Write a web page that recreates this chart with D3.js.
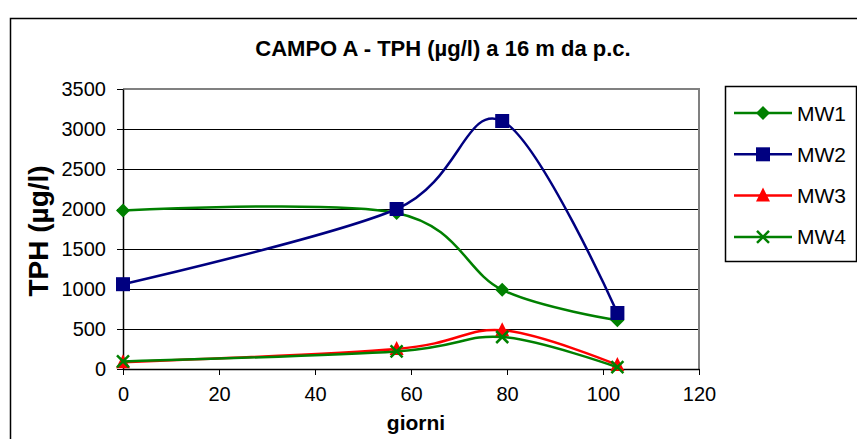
<!DOCTYPE html>
<html>
<head>
<meta charset="utf-8">
<script src="https://cdn.jsdelivr.net/npm/d3@7"></script>
<style>
body { margin: 0; background: #fff; }
svg { font-family: "Liberation Sans", Arial, sans-serif; }
</style>
</head>
<body>
<div id="chart"></div>
<script>
// giorni (days) and TPH values per well
const giorni = [0, 57, 79, 103];
const mw1 = [1980, 1950, 990, 610];
const mw2 = [1060, 2000, 3100, 700];
const mw3 = [85, 250, 485, 50];
const mw4 = [95, 220, 400, 22];
const seriesNames = ["MW1", "MW2", "MW3", "MW4"];
const xTicks = [0, 20, 40, 60, 80, 100, 120];
const yTicks = [0, 500, 1000, 1500, 2000, 2500, 3000, 3500];

const width = 857, height = 439;
const margin = { top: 89, bottom: 70, left: 123, right: 158 };

const svg = d3.select('#chart')
  .append('svg')
  .attr('width', width)
  .attr('height', height);

// outer chart border
svg.append('rect')
  .attr('x', 10.5).attr('y', 18.5)
  .attr('width', 900).attr('height', 500)
  .attr('fill', 'white')
  .attr('stroke', '#000')
  .attr('stroke-width', 1.5);

const xScale = d3.scaleLinear()
  .domain([0, 120])
  .range([margin.left, width - margin.right]);

const yScale = d3.scaleLinear()
  .domain([0, 3500])
  .range([height - margin.bottom, margin.top]);

// gridlines
svg.append('g')
  .selectAll('line')
  .data(yTicks.slice(1, -1))
  .enter()
  .append('line')
  .attr('x1', xScale(0)).attr('x2', xScale(120))
  .attr('y1', d => Math.round(yScale(d)) + 0.5)
  .attr('y2', d => Math.round(yScale(d)) + 0.5)
  .attr('stroke', '#000')
  .attr('stroke-width', 1);

// plot area border (gray top/right)
svg.append('path')
  .attr('d', `M${xScale(0)},${yScale(3500)}H${xScale(120)}V${yScale(0)}`)
  .attr('fill', 'none')
  .attr('stroke', '#808080')
  .attr('stroke-width', 2);

// axes
const xAxis = d3.axisBottom(xScale).tickValues(xTicks).tickFormat(d3.format('d'))
  .tickSize(6).tickPadding(12).tickSizeOuter(0);
const gx = svg.append('g')
  .attr('transform', `translate(0,${yScale(0)})`)
  .call(xAxis);
gx.select('.domain').attr('stroke', '#000').attr('stroke-width', 1.5);
gx.selectAll('.tick line').attr('stroke', '#000');
gx.selectAll('text').style('font-size', '20px').attr('fill', '#000');

const yAxis = d3.axisLeft(yScale).tickValues(yTicks).tickFormat(d3.format('d'))
  .tickSize(6).tickPadding(11).tickSizeOuter(0);
const gy = svg.append('g')
  .attr('transform', `translate(${xScale(0)},0)`)
  .call(yAxis);
gy.select('.domain').attr('stroke', '#000').attr('stroke-width', 1.5);
gy.selectAll('.tick line').attr('stroke', '#000');
gy.selectAll('text').style('font-size', '20px').attr('fill', '#000');

// titles
svg.append('text')
  .text('CAMPO A - TPH (µg/l) a 16 m da p.c.')
  .attr('x', 443).attr('y', 56)
  .attr('text-anchor', 'middle')
  .style('font-weight', 'bold')
  .style('font-size', '22px');

svg.append('text')
  .text('giorni')
  .attr('x', 416).attr('y', 430)
  .attr('text-anchor', 'middle')
  .style('font-weight', 'bold')
  .style('font-size', '21px');

svg.append('text')
  .text('TPH (µg/l)')
  .attr('transform', 'translate(48,231) rotate(-90)')
  .attr('text-anchor', 'middle')
  .style('font-weight', 'bold')
  .style('font-size', '28px');

// series
const series = [
  { name: seriesNames[0], values: mw1, color: '#008000', marker: 'diamond' },
  { name: seriesNames[1], values: mw2, color: '#000080', marker: 'square' },
  { name: seriesNames[2], values: mw3, color: '#ff0000', marker: 'triangle' },
  { name: seriesNames[3], values: mw4, color: '#008000', marker: 'cross' }
];

const line = d3.line()
  .x(d => xScale(d[0]))
  .y(d => yScale(d[1]))
  .curve(d3.curveCardinal.tension(0));

function drawMarker(g, type, color) {
  if (type === 'diamond') {
    g.append('path').attr('d', 'M0,-7L7,0L0,7L-7,0Z').attr('fill', color);
  } else if (type === 'square') {
    g.append('rect').attr('x', -7).attr('y', -7).attr('width', 14).attr('height', 14).attr('fill', color);
  } else if (type === 'triangle') {
    g.append('path').attr('d', 'M0,-8L7,6L-7,6Z').attr('fill', color);
  } else {
    g.append('path').attr('d', 'M-6,-6L6,6M-6,6L6,-6').attr('stroke', color).attr('stroke-width', 2.5);
  }
}

series.forEach(s => {
  const pts = giorni.map((g, i) => [g, s.values[i]]);
  svg.append('path')
    .attr('d', line(pts))
    .attr('fill', 'none')
    .attr('stroke', s.color)
    .attr('stroke-width', 2.5);
  pts.forEach(p => {
    const g = svg.append('g').attr('transform', `translate(${xScale(p[0])},${yScale(p[1])})`);
    drawMarker(g, s.marker, s.color);
  });
});

// legend
const legend = svg.append('g');
legend.append('rect')
  .attr('x', 725.5).attr('y', 86.5)
  .attr('width', 131).attr('height', 175)
  .attr('fill', 'white')
  .attr('stroke', '#000')
  .attr('stroke-width', 1.5);

series.forEach((s, i) => {
  const cy = 113 + i * 41.3;
  legend.append('line')
    .attr('x1', 734).attr('x2', 792)
    .attr('y1', cy).attr('y2', cy)
    .attr('stroke', s.color).attr('stroke-width', 2.5);
  const g = legend.append('g').attr('transform', `translate(763,${cy})`);
  drawMarker(g, s.marker, s.color);
  legend.append('text')
    .text(s.name)
    .attr('x', 797).attr('y', cy + 7.5)
    .style('font-size', '21px');
});
</script>
</body>
</html>
